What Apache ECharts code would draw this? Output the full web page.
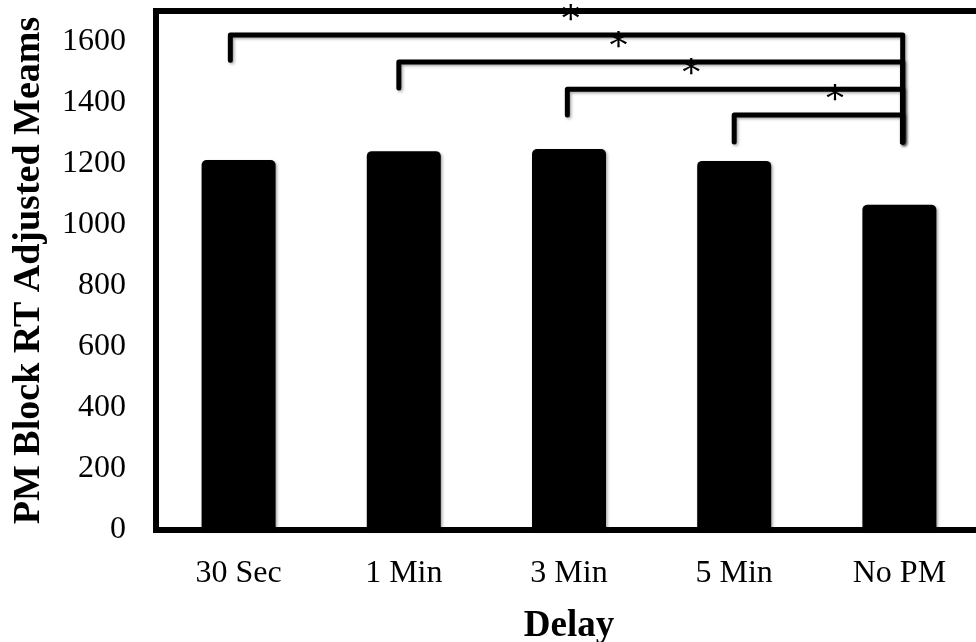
<!DOCTYPE html>
<html>
<head>
<meta charset="utf-8">
<script src="https://cdn.jsdelivr.net/npm/echarts@6/dist/echarts.min.js"></script>
<style>html,body{margin:0;padding:0;background:#fff}#c{width:976px;height:642px}</style>
</head>
<body>
<div id="c"></div>
<script>
// ---- data ----
var categories = ['30 Sec', '1 Min', '3 Min', '5 Min', 'No PM'];
var meanRT = [1212, 1241, 1248, 1209, 1065];
var yMin = 0, yMax = 1700, yStep = 200;
// significance brackets (x in category-index units, y in data units)
var bracketLeftX = [-0.05, 0.97, 1.99, 3.0];
var bracketRightX = [4.02, 4.02, 4.02, 4.02];
var bracketTopY = [1621, 1533, 1444, 1359];
var bracketLeftEndY = [1539, 1448, 1359, 1271];
var bracketRightEndY = [1271, 1271, 1271, 1271];
var starX = [2.01, 2.30, 2.74, 3.61];
var starY = [1665, 1576, 1488, 1403];
var starText = ['*', '*', '*', '*'];

var FONT = '"Liberation Serif", "Times New Roman", serif';
var bracketData = bracketLeftX.map(function (l, i) {
  return [l, bracketRightX[i], bracketTopY[i], bracketLeftEndY[i], bracketRightEndY[i], starX[i], starY[i], i];
});

var chart = echarts.init(document.getElementById('c'), null, {renderer: 'canvas'});
chart.setOption({
  animation: false,
  backgroundColor: '#fff',
  grid: {left: 156, width: 826, top: 11, height: 519, show: true, borderColor: '#000', borderWidth: 6,
    backgroundColor: 'transparent', containLabel: false, outerBoundsMode: 'none'},
  xAxis: [{
    type: 'category', data: categories,
    axisLine: {show: false}, axisTick: {show: false}, splitLine: {show: false},
    axisLabel: {color: '#000', fontFamily: FONT, fontSize: 32, margin: 28},
    name: 'Delay', nameLocation: 'middle', nameGap: 78,
    nameTextStyle: {color: '#000', fontFamily: FONT, fontSize: 37, fontWeight: 'bold'}
  }, {
    type: 'value', min: -0.5, max: 4.5, show: false
  }],
  yAxis: {
    type: 'value', min: yMin, max: yMax, interval: yStep,
    axisLine: {show: false}, axisTick: {show: false}, splitLine: {show: false},
    axisLabel: {color: '#000', fontFamily: FONT, fontSize: 32, margin: 30, showMaxLabel: false,
      formatter: function (v) { return String(v); }},
    name: 'PM Block RT Adjusted Meams', nameLocation: 'middle', nameGap: 108,
    nameTextStyle: {color: '#000', fontFamily: FONT, fontSize: 38, fontWeight: 'bold'}
  },
  series: [{
    type: 'bar', data: meanRT, barWidth: 74,
    itemStyle: {color: '#000', borderRadius: [5, 5, 0, 0], shadowBlur: 3, shadowColor: 'rgba(0,0,0,0.35)', shadowOffsetX: 1.5, shadowOffsetY: 1.5}
  }, {
    type: 'custom', xAxisIndex: 1, yAxisIndex: 0, data: bracketData, clip: false, silent: true,
    renderItem: function (params, api) {
      var l = api.value(0), r = api.value(1), t = api.value(2), le = api.value(3), re = api.value(4);
      var p1 = api.coord([l, le]), p2 = api.coord([l, t]), p3 = api.coord([r, t]), p4 = api.coord([r, re]);
      var s = api.coord([api.value(5), api.value(6)]);
      return {
        type: 'group',
        children: [{
          type: 'polyline',
          shape: {points: [p1, p2, p3, p4]},
          style: {stroke: '#000', lineWidth: 5, fill: null, lineJoin: 'round', lineCap: 'round',
            shadowBlur: 3, shadowColor: 'rgba(0,0,0,0.35)', shadowOffsetX: 1.5, shadowOffsetY: 1.5}
        }, {
          type: 'text',
          x: s[0], y: s[1],
          style: {text: starText[api.value(7)], fill: '#000', font: '36px "DejaVu Serif", serif', align: 'center', verticalAlign: 'middle'}
        }]
      };
    }
  }]
});
</script>
</body>
</html>
